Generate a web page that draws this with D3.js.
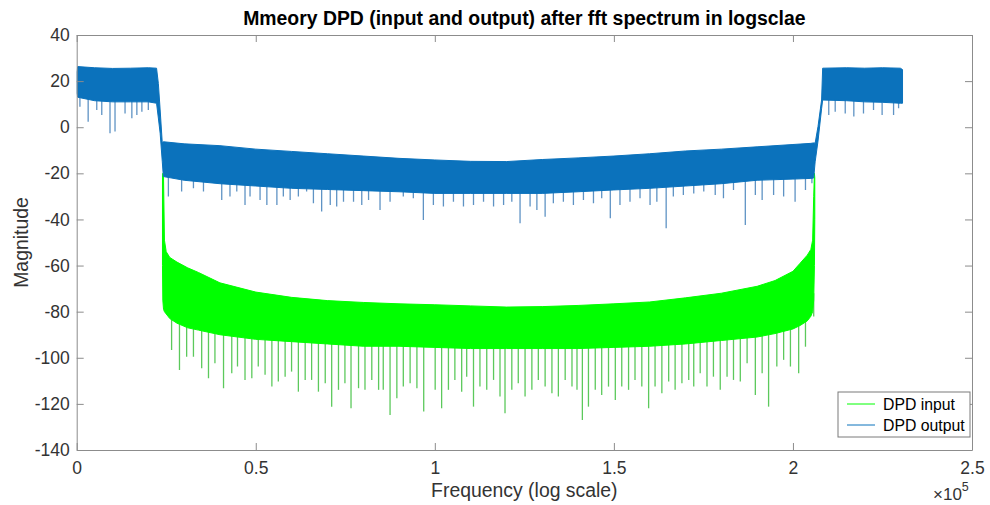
<!DOCTYPE html>
<html>
<head>
<meta charset="utf-8">
<script src="https://cdn.jsdelivr.net/npm/d3@7"></script>
<style>
  html, body { margin: 0; padding: 0; background: #fff; }
  svg { display: block; font-family: "Liberation Sans", Arial, Helvetica, sans-serif; }
</style>
</head>
<body>
<svg id="chart" width="990" height="505"></svg>
<script>
// ---------------- DATA (frequency in units of 1e5, magnitude in dB) ----------------
const xTicks = [0, 0.5, 1, 1.5, 2, 2.5];
const yTicks = [-140, -120, -100, -80, -60, -40, -20, 0, 20, 40];
const seriesNames = ["DPD input", "DPD output"];

// DPD output (blue): dense band envelope
const outFreq = [0, 0.003, 0.05, 0.10, 0.15, 0.20, 0.223, 0.228, 0.233, 0.239, 0.242, 0.30, 0.40, 0.50, 0.60, 0.70, 0.80, 0.90, 1.00, 1.10, 1.20, 1.30, 1.40, 1.50, 1.60, 1.70, 1.80, 1.90, 2.00, 2.05, 2.058, 2.062, 2.070, 2.080, 2.083, 2.15, 2.20, 2.25, 2.30, 2.306];
const outTop  = [24, 26.3, 25.8, 25.5, 25.6, 25.8, 25.6, 19, 7.5, -6.9, -6.3, -7.2, -8, -9.5, -10.5, -11.5, -12.5, -13.5, -14.2, -14.8, -14.9, -14, -13.3, -12.5, -11.5, -10.3, -9.5, -8.5, -7.5, -7, -6.8, -6.9, 0.3, 11.8, 25.6, 25.8, 25.6, 25.8, 25.6, 25];
const outLow  = [14.7, 13, 11.5, 11, 11, 11, 10.4, 4, -2.6, -15, -21.4, -23, -24.5, -25.5, -26.5, -27, -27.5, -28, -28.7, -28.7, -28.7, -28.7, -28, -27.2, -26.5, -25.5, -24.5, -23, -22.5, -22.2, -22, -15, -6, 8, 11.8, 11.5, 11, 10.8, 10.4, 10.4];
// DPD output dips below the band
const outDipFreq = [0.009, 0.032, 0.056, 0.070, 0.093, 0.107, 0.135, 0.154, 0.168, 0.182, 0.200,
  0.256, 0.293, 0.326, 0.354, 0.405, 0.428, 0.447, 0.470, 0.484, 0.512, 0.531, 0.559, 0.577, 0.596, 0.619, 0.642, 0.661, 0.684, 0.708, 0.726, 0.745, 0.773, 0.796, 0.815, 0.847, 0.875, 0.912, 0.940, 0.968,
  0.996, 1.024, 1.052, 1.080, 1.108, 1.136, 1.164, 1.192, 1.215, 1.238, 1.266, 1.285, 1.308, 1.331, 1.359, 1.387, 1.415, 1.443, 1.466, 1.490, 1.517, 1.545, 1.573, 1.601, 1.620, 1.646, 1.666, 1.694,
  1.723, 1.751, 1.783, 1.806, 1.834, 1.867, 1.895, 1.914, 1.946, 1.974, 2.006, 2.035, 2.053,
  2.100, 2.118, 2.146, 2.170, 2.197, 2.225, 2.249, 2.281, 2.295];
const outDipVal = [8.9, 2.4, 7.5, 5.3, -2.6, -1.9, 6.0, 3.9, 5.3, 6.7, 7.5,
  -30.1, -27.9, -26.5, -27.9, -31.6, -30.1, -27.9, -33.7, -30.1, -31.6, -33.7, -33.7, -30.1, -31.6, -30.1, -27.9, -33.0, -36.6, -33.7, -34.4, -32.3, -32.3, -33.7, -31.6, -35.9, -32.3, -30.1, -30.8, -40.2,
  -33.7, -34.4, -32.3, -34.4, -33.7, -32.3, -34.4, -33.7, -32.3, -41.7, -34.4, -35.9, -38.8, -33.0, -32.3, -33.7, -31.6, -33.0, -30.8, -39.5, -33.7, -32.3, -30.8, -33.7, -32.3, -43.8, -30.1, -29.4,
  -28.7, -27.9, -29.4, -30.8, -27.2, -42.4, -29.4, -31.6, -29.4, -30.1, -32.3, -27.2, -24.3,
  5.3, 6.7, 6.0, 4.6, 6.0, 7.5, 5.3, 5.3, 8.2];

// DPD input (green): dense band envelope
const inFreq = [0.2395, 0.2405, 0.2425, 0.245, 0.25, 0.26, 0.28, 0.31, 0.34, 0.40, 0.50, 0.60, 0.70, 0.80, 0.90, 1.00, 1.10, 1.20, 1.30, 1.40, 1.50, 1.60, 1.70, 1.80, 1.90, 1.95, 2.00, 2.02, 2.04, 2.05, 2.055, 2.058, 2.060, 2.061];
const inTop  = [-22, -20, -22, -49, -54, -56.5, -58.5, -61, -63, -67.5, -71.5, -73.8, -75.2, -76, -76.6, -77, -77.5, -78, -77.8, -77.3, -76.6, -75.8, -74, -72, -69, -66.5, -62.5, -59, -55.5, -53, -49, -30, -20, -22];
const inLow  = [-60, -75, -79, -80, -81, -83, -85, -87, -88, -90, -92, -93, -94, -95, -95, -95.5, -96, -96, -96, -96, -95.5, -95, -94, -92.5, -91, -89.5, -87.5, -86, -84, -82, -80, -75, -60, -40];
// DPD input dips below the band
const inDipFreq = [0.265, 0.287, 0.307, 0.326, 0.349, 0.368, 0.386, 0.410, 0.433, 0.449, 0.470, 0.489, 0.507, 0.526, 0.545, 0.563, 0.582, 0.600, 0.619, 0.638, 0.656, 0.675, 0.694, 0.712, 0.731, 0.749, 0.766, 0.787, 0.805, 0.824, 0.843, 0.856, 0.875, 0.894, 0.912, 0.931, 0.950, 0.969,
  1.001, 1.019, 1.038, 1.056, 1.075, 1.089, 1.108, 1.126, 1.145, 1.164, 1.182, 1.196, 1.215, 1.233, 1.252, 1.271, 1.289, 1.308, 1.327, 1.345, 1.364, 1.383, 1.397, 1.412, 1.429, 1.448, 1.466, 1.485, 1.504, 1.522, 1.541, 1.559, 1.578, 1.597, 1.615, 1.634, 1.653, 1.671, 1.690, 1.709,
  1.723, 1.741, 1.760, 1.778, 1.797, 1.816, 1.834, 1.853, 1.872, 1.895, 1.914, 1.932, 1.955, 1.974, 1.993, 2.016, 2.035, 2.058];
const inDipVal = [-96.6, -105.3, -99.5, -99.5, -104.5, -108.9, -102.4, -113.2, -106.7, -103.8, -109.6, -108.9, -103.8, -107.4, -112.5, -110.3, -108.2, -106.0, -114.7, -109.6, -109.6, -114.7, -111.1, -121.2, -113.9, -111.1, -121.9, -113.2, -113.9, -109.6, -113.9, -113.9, -124.8, -117.6, -112.5, -111.1, -113.2, -123.3,
  -113.9, -121.9, -113.9, -109.6, -114.7, -108.2, -121.2, -112.5, -113.9, -109.6, -116.8, -124.1, -113.9, -111.1, -116.8, -113.9, -109.6, -112.5, -115.4, -116.8, -109.6, -112.5, -113.9, -127.0, -121.2, -113.9, -116.1, -112.5, -118.3, -112.5, -113.9, -109.6, -112.5, -121.9, -112.5, -115.4, -110.3, -113.9, -111.1, -109.6,
  -112.5, -106.7, -112.5, -108.2, -113.9, -108.2, -109.6, -110.3, -102.4, -116.1, -106.7, -121.2, -103.8, -100.9, -103.8, -106.7, -95.2, -82.1];

// ---------------- LAYOUT ----------------
const W = 990, H = 505;
const plot = { left: 76.7, right: 972, top: 35, bottom: 450 };
const colors = { input: "#00ff00", inputDip: "#5cc95c", output: "#0b72bc", outputDip: "#5f93c4" };
const axisColor = "#8c8c8c", textColor = "#333333";

const svg = d3.select("#chart");
const x = d3.scaleLinear().domain([0, 2.5]).range([plot.left, plot.right]);
const y = d3.scaleLinear().domain([-140, 40]).range([plot.bottom, plot.top]);

svg.append("defs").append("clipPath").attr("id", "clip")
  .append("rect").attr("x", plot.left).attr("y", plot.top)
  .attr("width", plot.right - plot.left).attr("height", plot.bottom - plot.top);

const g = svg.append("g").attr("clip-path", "url(#clip)");

function drawSeries(freq, top, low, dipF, dipV, fill, dipColor) {
  const band = freq.map((f, i) => ({ f, hi: top[i], lo: low[i] }));
  const lowAt = d3.scaleLinear().domain(freq).range(low).clamp(true);
  // dips (drawn first, body covers their upper part)
  g.append("g").selectAll("line").data(dipF.map((f, i) => ({ f, v: dipV[i] })))
    .join("line")
    .attr("x1", d => x(d.f)).attr("x2", d => x(d.f))
    .attr("y1", d => y(lowAt(d.f) + 3)).attr("y2", d => y(d.v))
    .attr("stroke", dipColor).attr("stroke-width", 1.3);
  const area = d3.area().x(d => x(d.f)).y0(d => y(d.lo)).y1(d => y(d.hi));
  g.append("path").datum(band).attr("d", area).attr("fill", fill)
    .attr("stroke", fill).attr("stroke-width", 1).attr("stroke-linejoin", "round");
}

drawSeries(inFreq, inTop, inLow, inDipFreq, inDipVal, colors.input, colors.inputDip);
drawSeries(outFreq, outTop, outLow, outDipFreq, outDipVal, colors.output, colors.outputDip);

// ---------------- AXES ----------------
const tickFont = "17.5px";
const ax = svg.append("g").attr("class", "axes");

function styleAxis(sel) {
  sel.select(".domain").attr("stroke", axisColor);
  sel.selectAll(".tick line").attr("stroke", axisColor);
  sel.selectAll(".tick text").attr("fill", textColor).style("font-size", tickFont)
    .style("font-family", '"Liberation Sans", Arial, sans-serif');
}

const bottomAxis = ax.append("g").attr("transform", `translate(0,${plot.bottom})`)
  .call(d3.axisBottom(x).tickValues(xTicks).tickFormat(d3.format("~g")).tickSizeInner(-7).tickSizeOuter(0).tickPadding(12));
styleAxis(bottomAxis);
const topAxis = ax.append("g").attr("transform", `translate(0,${plot.top})`)
  .call(d3.axisTop(x).tickValues(xTicks).tickFormat("").tickSizeInner(-7).tickSizeOuter(0));
styleAxis(topAxis);
const leftAxis = ax.append("g").attr("transform", `translate(${plot.left},0)`)
  .call(d3.axisLeft(y).tickValues(yTicks).tickFormat(d3.format("d")).tickSizeInner(-7).tickSizeOuter(0).tickPadding(7));
styleAxis(leftAxis);
leftAxis.selectAll(".tick text").text(d => d < 0 ? "-" + Math.abs(d) : d);
const rightAxis = ax.append("g").attr("transform", `translate(${plot.right},0)`)
  .call(d3.axisRight(y).tickValues(yTicks).tickFormat("").tickSizeInner(-7).tickSizeOuter(0));
styleAxis(rightAxis);

// exponent label
const ex = svg.append("text").attr("x", 933).attr("y", 500).attr("fill", textColor)
  .style("font-size", "17px");
ex.append("tspan").text("\u00d710");
ex.append("tspan").attr("dy", -9).style("font-size", "12.5px").text("5");

// ---------------- TITLES ----------------
svg.append("text").attr("x", (plot.left + plot.right) / 2).attr("y", 25)
  .attr("text-anchor", "middle").style("font-weight", "bold").style("font-size", "19.4px")
  .attr("fill", "#000").text("Mmeory DPD (input and output) after fft spectrum in logsclae");
svg.append("text").attr("x", (plot.left + plot.right) / 2).attr("y", 497)
  .attr("text-anchor", "middle").style("font-size", "19.4px").attr("fill", textColor)
  .text("Frequency (log scale)");
svg.append("text").attr("transform", `translate(27.5,${(plot.top + plot.bottom) / 2}) rotate(-90)`)
  .attr("text-anchor", "middle").style("font-size", "19.4px").attr("fill", textColor)
  .text("Magnitude");

// ---------------- LEGEND ----------------
const leg = svg.append("g").attr("transform", "translate(838,392)");
leg.append("rect").attr("width", 132).attr("height", 45).attr("fill", "#fff")
  .attr("stroke", "#7a7a7a").attr("stroke-width", 1);
const legColors = [colors.input, colors.output];
seriesNames.forEach((name, i) => {
  const yy = 12 + i * 21;
  leg.append("line").attr("x1", 9).attr("x2", 37).attr("y1", yy).attr("y2", yy)
    .attr("stroke", legColors[i]).attr("stroke-width", 1);
  leg.append("text").attr("x", 45).attr("y", yy).attr("dy", "0.35em")
    .style("font-size", "15.8px").attr("fill", "#000").text(name);
});
</script>
</body>
</html>
